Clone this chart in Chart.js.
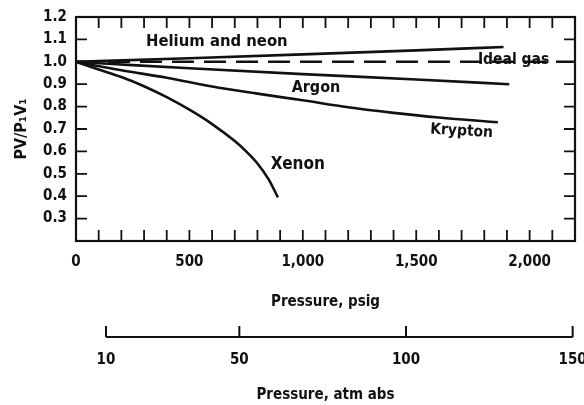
<!DOCTYPE html>
<html>
<head>
<meta charset="utf-8">
<script src="https://cdn.jsdelivr.net/npm/chart.js@4.4.0/dist/chart.umd.min.js"></script>
<style>
  html, body { margin: 0; padding: 0; background: #fff; }
  #wrap { width: 584px; height: 405px; }
</style>
</head>
<body>
<div id="wrap"><canvas id="c" width="584" height="405"></canvas></div>
<script>
// ---- data ----
const heliumP  = [0, 500, 1000, 1500, 1885];
const heliumV  = [1.0, 1.016, 1.033, 1.051, 1.066];
const idealP   = [0, 2200];
const idealV   = [1.0, 1.0];
const argonP   = [0, 250, 500, 1000, 1500, 1910];
const argonV   = [1.0, 0.985, 0.971, 0.945, 0.921, 0.900];
const kryptonP = [0, 200, 400, 600, 800, 1000, 1200, 1400, 1600, 1860];
const kryptonV = [1.0, 0.962, 0.929, 0.890, 0.858, 0.828, 0.797, 0.772, 0.751, 0.730];
const xenonP   = [0, 100, 200, 300, 400, 500, 600, 700, 750, 800, 850, 890];
const xenonV   = [1.0, 0.966, 0.932, 0.891, 0.842, 0.786, 0.722, 0.646, 0.600, 0.546, 0.474, 0.395];

const atmTicks = [10, 50, 100, 150];
const yLabelSkip = [0.2];
const PSI_PER_ATM = 14.696;

const seriesNames = ['Helium and neon', 'Ideal gas', 'Argon', 'Krypton', 'Xenon'];

// annotation text placed in data coordinates
const notes = [
  { text: 'Helium and neon', x: 621,  y: 1.09,  align: 'center', size: 16.5 },
  { text: 'Ideal gas',       x: 1772, y: 1.006, align: 'left',   size: 15.5 },
  { text: 'Argon',           x: 1058, y: 0.885, align: 'center', size: 16 },
  { text: 'Krypton',         x: 1700, y: 0.690, align: 'center', size: 15.5, rot: 0.06 },
  { text: 'Xenon',           x: 978,  y: 0.539, align: 'center', size: 17 }
];

const FONT = "'Liberation Sans Narrow', 'DejaVu Sans Condensed', 'Arial Narrow', 'Liberation Sans', sans-serif";
const INK = '#111';

const X_MIN = 0, X_MAX = 2200;

function pts(px, vs) { return px.map((p, i) => ({ x: p, y: vs[i] })); }

function ds(label, px, vs, dash) {
  return {
    label: label,
    data: pts(px, vs),
    showLine: true,
    borderColor: INK,
    borderWidth: 2.6,
    borderDash: dash || [],
    pointRadius: 0,
    pointHoverRadius: 0,
    fill: false,
    cubicInterpolationMode: 'monotone',
    xAxisID: 'x',
    yAxisID: 'y'
  };
}

function noPad(s) { s.paddingLeft = 0; s.paddingRight = 0; s.paddingTop = 0; s.paddingBottom = 0; }

const framePlugin = {
  id: 'frame',
  afterDraw(chart) {
    const ctx = chart.ctx;
    const a = chart.chartArea;
    const xs = chart.scales.x, ys = chart.scales.y, x2 = chart.scales.x2;
    const TL = 11;
    ctx.save();
    ctx.strokeStyle = INK;
    ctx.lineWidth = 2.2;
    ctx.strokeRect(a.left, a.top, a.right - a.left, a.bottom - a.top);
    ctx.lineWidth = 1.8;
    ctx.beginPath();
    xs.ticks.forEach(t => {
      if (t.value <= xs.min || t.value >= xs.max) return;
      const px = xs.getPixelForValue(t.value);
      ctx.moveTo(px, a.bottom); ctx.lineTo(px, a.bottom - TL);
      ctx.moveTo(px, a.top);    ctx.lineTo(px, a.top + TL);
    });
    ys.ticks.forEach(t => {
      if (t.value <= ys.min + 1e-9 || t.value >= ys.max - 1e-9) return;
      const py = ys.getPixelForValue(t.value);
      ctx.moveTo(a.left, py);  ctx.lineTo(a.left + TL, py);
      ctx.moveTo(a.right, py); ctx.lineTo(a.right - TL, py);
    });
    ctx.stroke();
    // secondary (atm abs) axis line
    const yLine = x2.top + 26;
    const p0 = x2.getPixelForValue(atmTicks[0]);
    const p1 = x2.getPixelForValue(atmTicks[atmTicks.length - 1]);
    ctx.lineWidth = 2;
    ctx.beginPath();
    ctx.moveTo(p0, yLine); ctx.lineTo(p1, yLine);
    atmTicks.forEach(v => {
      const px = x2.getPixelForValue(v);
      ctx.moveTo(px, yLine); ctx.lineTo(px, yLine - 11);
    });
    ctx.stroke();
    // curve labels
    ctx.fillStyle = INK;
    ctx.textBaseline = 'middle';
    notes.forEach(n => {
      const px = xs.getPixelForValue(n.x), py = ys.getPixelForValue(n.y);
      ctx.save();
      ctx.font = 'bold ' + n.size + 'px ' + FONT;
      ctx.translate(px, py);
      if (n.rot) ctx.rotate(n.rot);
      ctx.textAlign = n.align;
      ctx.fillText(n.text, 0, 0);
      ctx.restore();
    });
    ctx.restore();
  }
};

new Chart(document.getElementById('c'), {
  type: 'scatter',
  data: {
    datasets: [
      ds(seriesNames[0], heliumP, heliumV),
      ds(seriesNames[1], idealP, idealV, [22, 10]),
      ds(seriesNames[2], argonP, argonV),
      ds(seriesNames[3], kryptonP, kryptonV),
      ds(seriesNames[4], xenonP, xenonV)
    ]
  },
  options: {
    responsive: false,
    animation: false,
    devicePixelRatio: 1,
    layout: { padding: { left: 12, right: 9, top: 17, bottom: 1 } },
    plugins: { legend: { display: false }, tooltip: { enabled: false } },
    scales: {
      x: {
        type: 'linear', position: 'bottom', weight: 0,
        min: X_MIN, max: X_MAX,
        grid: { display: false, drawTicks: false },
        border: { display: false },
        ticks: {
          stepSize: 100, autoSkip: false, maxRotation: 0, padding: 12,
          color: INK, font: { family: FONT, size: 15, weight: 'bold' },
          callback: v => (v % 500 === 0 && v <= 2000) ? v.toLocaleString('en-US') : ''
        },
        title: { display: true, text: 'Pressure, psig', color: INK, padding: 0,
                 font: { family: FONT, size: 15, weight: 'bold' } },
        afterFit: s => { s.height = 70; noPad(s); }
      },
      x2: {
        type: 'linear', position: 'bottom', weight: 1,
        // atm abs scale aligned with the psig scale: psig = (atm - 1) * 14.696
        min: 1 + X_MIN / PSI_PER_ATM, max: 1 + X_MAX / PSI_PER_ATM,
        grid: { display: false, drawTicks: false },
        border: { display: false },
        afterBuildTicks: s => { s.ticks = atmTicks.map(v => ({ value: v })); },
        ticks: {
          autoSkip: false, maxRotation: 0, padding: 40,
          color: INK, font: { family: FONT, size: 15, weight: 'bold' },
          callback: v => String(v)
        },
        title: { display: true, text: 'Pressure, atm abs', color: INK, padding: 0,
                 font: { family: FONT, size: 15, weight: 'bold' } },
        afterFit: s => { s.height = 93; noPad(s); }
      },
      y: {
        type: 'linear', position: 'left',
        min: 0.2, max: 1.2,
        grid: { display: false, drawTicks: false },
        border: { display: false },
        ticks: {
          stepSize: 0.1, autoSkip: false, padding: 9,
          color: INK, font: { family: FONT, size: 15, weight: 'bold' },
          callback: v => yLabelSkip.some(s => Math.abs(s - v) < 1e-6) ? '' : Number(v).toFixed(1)
        },
        title: { display: true, text: 'PV/P\u2081V\u2081', color: INK, padding: 0,
                 font: { family: FONT, size: 16, weight: 'bold' } },
        afterFit: s => { s.width = 64; noPad(s); }
      }
    }
  },
  plugins: [framePlugin]
});
</script>
</body>
</html>
